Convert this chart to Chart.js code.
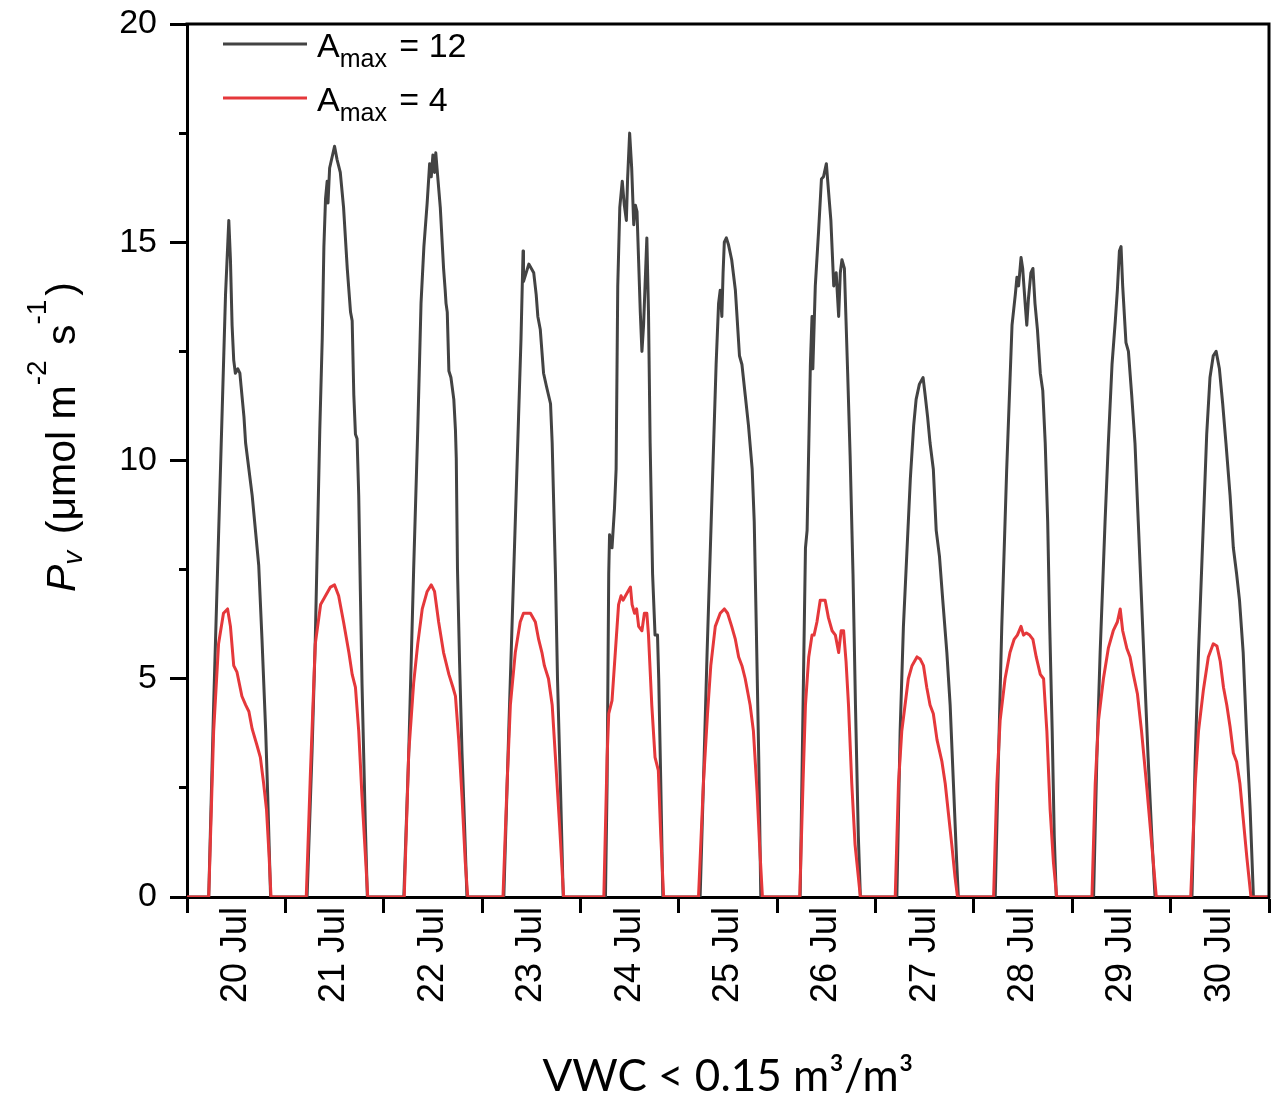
<!DOCTYPE html>
<html lang="en">
<head>
  <meta charset="UTF-8">
  <title>Pv under VWC &lt; 0.15</title>
  <script src="https://cdn.jsdelivr.net/npm/chart.js"></script>
  <style>
    html, body {
      margin: 0;
      padding: 0;
      background: #ffffff;
    }
    #wrap {
      width: 1281px;
      height: 1101px;
    }
  </style>
</head>
<body>
  <div id="wrap"><canvas id="pvChart" width="1281" height="1101"></canvas></div>

  <script>
    // day labels (one per day, centred on noon) and y ticks
    const dayLabels = ['20 Jul', '21 Jul', '22 Jul', '23 Jul', '24 Jul', '25 Jul',
                       '26 Jul', '27 Jul', '28 Jul', '29 Jul', '30 Jul'];
    const yTicks = [0, 2.5, 5, 7.5, 10, 12.5, 15, 17.5, 20];
    const amaxValues = [12, 4];

    // A_max = 12 : hours since 20 Jul 00:00 and Pv
    const a12Hours = [
      0,
      5.3, 6.5, 8.6, 9.4, 10.2, 10.6, 11.0, 11.4, 11.8, 12.4, 12.9, 13.2, 13.9, 14.3, 15.1, 15.9, 17.5, 18.3, 19.2, 19.7, 20.4,
      29.3, 30.5, 31.3, 32.4, 33.0, 33.4, 33.8, 34.2, 34.4, 34.8, 36.0, 36.6, 37.4, 38.2, 39.1, 39.9, 40.3, 40.7, 41.1, 41.5, 41.9, 42.3, 42.7, 43.1, 43.5, 44.0,
      52.9, 54.1, 55.3, 56.3, 56.8, 57.1, 57.8, 58.6, 59.2, 59.6, 60.0, 60.4, 60.7, 61.0, 61.8, 62.6, 63.0, 63.2, 63.5, 63.9, 64.4, 65.1, 65.5, 65.7, 66.0, 66.5, 67.1, 67.7, 68.3,
      77.3, 78.5, 79.3, 80.1, 80.9, 81.5, 82.0, 82.1, 83.4, 84.6, 85.2, 85.6, 86.2, 87.0, 87.7, 88.2, 88.7, 89.1, 89.9, 90.4, 91.1, 91.8,
      102.1, 102.5, 102.9, 103.1, 103.7, 104.3, 104.7, 105.1, 105.6, 106.2, 106.7, 107.2, 107.5, 108.0, 108.5, 109.0, 109.4, 109.8, 110.6, 111.0, 111.4, 112.2, 112.6, 113.0, 113.6, 114.2, 114.8, 115.1, 115.6, 116.1,
      125.2, 126.0, 126.9, 128.1, 129.1, 129.7, 130.1, 130.5, 130.8, 131.1, 131.6, 132.1, 132.9, 133.8, 134.2, 134.8, 135.4, 136.2, 137.0, 137.9, 138.4, 138.9, 139.5, 140.0,
      149.6, 150.9, 151.3, 152.1, 152.5, 152.7, 153.3, 154.1, 154.8, 155.3, 156.0, 156.5, 157.1, 157.8, 158.4, 159.0, 159.4, 159.8, 160.4, 161.2, 161.8, 162.5, 163.1, 163.8, 164.3,
      173.2, 174.0, 174.8, 175.7, 176.5, 177.3, 177.9, 178.7, 179.6, 180.1, 180.7, 181.3, 182.1, 182.8, 183.6, 184.4, 185.4, 186.2, 187.0, 187.8, 188.2,
      197.2, 198.0, 198.8, 200.0, 201.3, 202.1, 202.5, 202.9, 203.5, 203.9, 204.5, 204.9, 205.3, 205.9, 206.4, 206.9, 207.5, 208.2, 208.8, 209.4, 210.0, 210.5, 211.1, 211.6, 212.1,
      221.2, 222.0, 222.8, 224.0, 224.8, 225.7, 226.5, 227.0, 227.5, 227.9, 228.3, 229.1, 229.7, 230.5, 231.3, 232.1, 232.9, 233.7, 234.5, 235.4, 236.2,
      245.2, 246.0, 246.8, 248.0, 248.8, 249.6, 250.4, 251.1, 251.9, 252.7, 253.5, 254.5, 255.3, 256.1, 256.8, 257.7, 258.5, 259.4, 260.2, 264
    ];
    const a12Values = [
      0,
      0, 4.4, 11.2, 13.8, 15.5, 14.6, 13.1, 12.3, 12.0, 12.1, 12.0, 11.7, 11.0, 10.4, 9.8, 9.2, 7.6, 5.9, 3.8, 2.3, 0,
      0, 3.3, 5.9, 10.7, 12.8, 14.9, 16.0, 16.4, 15.9, 16.7, 17.2, 16.9, 16.6, 15.8, 14.4, 13.4, 13.2, 11.5, 10.6, 10.5, 9.2, 7.0, 4.9, 3.3, 1.7, 0,
      0, 3.3, 7.5, 10.7, 12.5, 13.6, 14.9, 15.9, 16.8, 16.5, 17.0, 16.6, 17.05, 16.7, 15.8, 14.4, 13.9, 13.6, 13.4, 12.05, 11.9, 11.4, 10.7, 10.05, 7.5, 5.4, 3.3, 1.7, 0,
      0, 3.8, 6.2, 8.6, 11.0, 12.8, 14.8, 14.1, 14.5, 14.3, 13.8, 13.3, 13.0, 12.0, 11.7, 11.5, 11.3, 10.4, 7.4, 5.0, 2.6, 0,
      0, 2.6, 7.4, 8.3, 8.0, 8.9, 9.8, 14.0, 15.8, 16.4, 15.85, 15.5, 16.45, 17.5, 16.7, 15.4, 15.85, 15.7, 13.4, 12.5, 13.1, 15.1, 13.4, 10.4, 7.4, 6.0, 6.0, 5.0, 2.6, 0,
      0, 2.6, 5.6, 9.2, 12.2, 13.6, 13.9, 13.3, 14.3, 15.0, 15.1, 14.95, 14.6, 13.9, 13.3, 12.4, 12.2, 11.5, 10.8, 9.8, 8.6, 6.2, 3.2, 0,
      0, 8.0, 8.4, 12.2, 13.3, 12.1, 14.0, 15.25, 16.45, 16.5, 16.8, 16.2, 15.5, 14.0, 14.3, 13.3, 14.3, 14.6, 14.4, 12.0, 10.1, 7.4, 4.4, 1.4, 0,
      0, 3.8, 6.2, 8.0, 9.6, 10.8, 11.4, 11.75, 11.9, 11.5, 11.0, 10.4, 9.8, 8.4, 7.8, 6.8, 5.6, 4.4, 2.6, 0.8, 0,
      0, 3.2, 6.2, 9.8, 13.1, 13.8, 14.2, 14.0, 14.65, 14.4, 13.6, 13.1, 13.7, 14.3, 14.4, 13.6, 13.0, 12.0, 11.6, 10.4, 8.6, 6.2, 3.8, 1.4, 0,
      0, 3.2, 5.6, 8.6, 10.4, 12.2, 13.2, 13.9, 14.8, 14.9, 14.0, 12.7, 12.5, 11.5, 10.4, 8.6, 6.8, 5.0, 3.2, 1.4, 0,
      0, 3.2, 5.6, 8.6, 10.6, 11.9, 12.4, 12.5, 12.1, 11.3, 10.4, 9.2, 8.0, 7.4, 6.8, 5.6, 3.8, 2.0, 0, 0
    ];

    // A_max = 4
    const a4Hours = [
      0,
      5.3, 6.5, 7.7, 8.9, 9.9, 10.6, 11.4, 12.2, 13.4, 14.3, 15.1, 15.9, 17.0, 17.9, 18.7, 19.4, 20.0, 20.5,
      29.1, 30.1, 31.3, 32.6, 33.8, 35.0, 36.0, 37.0, 38.2, 39.5, 40.3, 41.1, 41.9, 42.7, 43.5, 44.1,
      53.0, 54.1, 55.3, 56.3, 57.4, 58.6, 59.6, 60.4, 61.4, 62.6, 63.9, 64.9, 65.5, 66.3, 67.1, 67.9, 68.5,
      77.1, 78.1, 78.9, 80.1, 81.3, 82.1, 83.8, 85.0, 85.8, 86.6, 87.2, 88.2, 89.1, 89.9, 90.9, 91.9,
      101.7, 102.5, 102.9, 103.7, 104.5, 105.3, 105.9, 106.4, 107.0, 108.2, 108.6, 109.2, 109.7, 110.2, 111.0, 111.6, 112.2, 112.6, 113.4, 114.2, 115.0, 115.6, 116.3,
      124.8, 126.0, 127.0, 127.8, 128.9, 130.1, 131.1, 131.9, 132.9, 133.8, 134.6, 135.4, 136.2, 137.4, 138.2, 139.1, 139.7, 140.4,
      149.5, 150.3, 150.9, 151.7, 152.5, 153.0, 153.7, 154.5, 155.7, 156.5, 157.4, 158.2, 159.0, 159.6, 160.2, 160.8, 161.4, 162.2, 163.0, 164.3,
      172.8, 173.6, 174.4, 175.2, 176.0, 176.9, 178.1, 178.9, 179.7, 180.5, 181.3, 182.1, 183.0, 184.2, 185.0, 185.8, 186.6, 187.4, 188.0,
      196.8, 197.6, 198.4, 199.6, 200.8, 201.8, 202.6, 203.5, 204.1, 204.8, 205.6, 206.4, 207.2, 208.2, 209.0, 209.8, 210.6, 211.4, 212.2,
      220.8, 221.6, 222.4, 223.6, 224.8, 226.0, 227.0, 227.7, 228.3, 229.3, 230.1, 230.9, 231.9, 232.9, 234.1, 235.4, 236.5,
      244.9, 246.0, 246.8, 248.0, 249.2, 250.4, 251.3, 252.1, 252.9, 253.7, 254.5, 255.3, 256.1, 256.9, 257.7, 258.6, 259.6, 264
    ];
    const a4Values = [
      0,
      0, 3.8, 5.8, 6.5, 6.6, 6.2, 5.3, 5.15, 4.6, 4.4, 4.25, 3.85, 3.5, 3.2, 2.6, 2.0, 1.0, 0,
      0, 2.8, 5.8, 6.7, 6.9, 7.1, 7.15, 6.9, 6.3, 5.6, 5.1, 4.8, 3.8, 2.3, 1.0, 0,
      0, 3.3, 4.9, 5.8, 6.6, 7.0, 7.15, 7.0, 6.3, 5.6, 5.1, 4.8, 4.6, 3.6, 2.3, 0.8, 0,
      0, 2.6, 4.4, 5.6, 6.3, 6.5, 6.5, 6.3, 5.9, 5.6, 5.3, 5.0, 4.4, 3.2, 1.65, 0,
      0, 3.2, 4.2, 4.5, 5.6, 6.7, 6.9, 6.8, 6.9, 7.1, 6.7, 6.5, 6.6, 6.2, 6.1, 6.5, 6.5, 6.0, 4.4, 3.2, 2.9, 1.4, 0,
      0, 2.6, 4.2, 5.3, 6.2, 6.5, 6.6, 6.5, 6.2, 5.9, 5.5, 5.3, 5.0, 4.4, 3.8, 2.4, 1.2, 0,
      0, 2.6, 4.4, 5.5, 6.0, 6.0, 6.3, 6.8, 6.8, 6.4, 6.1, 6.0, 5.6, 6.1, 6.1, 5.4, 4.4, 2.6, 1.2, 0,
      0, 2.6, 3.8, 4.4, 5.0, 5.3, 5.5, 5.45, 5.3, 4.8, 4.4, 4.2, 3.6, 3.1, 2.6, 1.9, 1.2, 0.45, 0,
      0, 2.6, 4.05, 5.0, 5.6, 5.9, 6.0, 6.2, 6.0, 6.05, 6.0, 5.9, 5.5, 5.1, 5.0, 3.8, 2.0, 0.8, 0,
      0, 2.6, 4.05, 5.0, 5.7, 6.1, 6.3, 6.6, 6.1, 5.7, 5.5, 5.1, 4.65, 3.8, 2.6, 1.2, 0,
      0, 2.6, 3.8, 4.75, 5.5, 5.8, 5.75, 5.4, 4.8, 4.4, 3.9, 3.3, 3.1, 2.6, 1.8, 0.9, 0, 0
    ];

    const SANS = '"Liberation Sans", Arial, sans-serif';
    Chart.defaults.font.family = SANS;
    Chart.defaults.color = '#000';

    const toPoints = (hours, values) => hours.map((h, i) => ({ x: h, y: values[i] }));

    // draws a run of text pieces (normal / italic / sub / sup) along the baseline
    function drawPieces(ctx, x, y, pieces, measureOnly) {
      let cx = x;
      pieces.forEach(p => {
        ctx.font = (p.italic ? 'italic ' : '') + p.size + 'px ' + SANS;
        if (!measureOnly) ctx.fillText(p.t, cx, y + (p.dy || 0));
        cx += ctx.measureText(p.t).width + (p.gap || 0);
      });
      return cx - x;
    }

    // frame, legend with subscripts and the rotated y title
    const decorations = {
      id: 'decorations',
      afterDraw(chart) {
        const { ctx, chartArea: a } = chart;
        ctx.save();

        ctx.strokeStyle = '#000';
        ctx.lineWidth = 3;
        ctx.beginPath();
        ctx.moveTo(a.left - 1.5, a.top);
        ctx.lineTo(a.right, a.top);
        ctx.lineTo(a.right, a.bottom + 1.5);
        ctx.stroke();

        ctx.fillStyle = '#000';
        ctx.textBaseline = 'alphabetic';
        chart.data.datasets.forEach((ds, i) => {
          const y = a.top + 20 + i * 54;
          ctx.strokeStyle = ds.borderColor;
          ctx.lineWidth = 3;
          ctx.beginPath();
          ctx.moveTo(a.left + 36, y);
          ctx.lineTo(a.left + 120, y);
          ctx.stroke();
          drawPieces(ctx, a.left + 130, y + 12.5, [
            { t: 'A', size: 34 },
            { t: 'max', size: 25, dy: 10, gap: 3 },
            { t: ' = ' + amaxValues[i], size: 34 }
          ]);
        });

        const title = [
          { t: 'P', size: 41, italic: true },
          { t: 'v', size: 28, italic: true, dy: 7, gap: 5 },
          { t: ' (μmol m', size: 41 },
          { t: '-2', size: 28, dy: -29, gap: 4 },
          { t: ' s', size: 41 },
          { t: '-1', size: 28, dy: -29, gap: 4 },
          { t: ')', size: 41 }
        ];
        ctx.translate(75, 437);
        ctx.rotate(-Math.PI / 2);
        const w = drawPieces(ctx, 0, 0, title, true);
        drawPieces(ctx, -w / 2, 0, title, false);
        ctx.restore();
      }
    };

    new Chart(document.getElementById('pvChart'), {
      type: 'line',
      data: {
        datasets: [
          {
            label: 'Amax = ' + amaxValues[0],
            data: toPoints(a12Hours, a12Values),
            borderColor: '#434343',
            borderWidth: 3,
            pointRadius: 0,
            tension: 0,
            borderJoinStyle: 'round',
            order: 1
          },
          {
            label: 'Amax = ' + amaxValues[1],
            data: toPoints(a4Hours, a4Values),
            borderColor: '#e5383b',
            borderWidth: 3,
            pointRadius: 0,
            tension: 0,
            borderJoinStyle: 'round',
            order: 0
          }
        ]
      },
      options: {
        responsive: false,
        devicePixelRatio: 1,
        animation: false,
        layout: { padding: { top: 24, right: 12, left: 0, bottom: 0 } },
        plugins: {
          legend: { display: false },
          tooltip: { enabled: false }
        },
        scales: {
          x: {
            type: 'linear',
            position: 'bottom',
            min: 0,
            max: dayLabels.length * 24,
            afterBuildTicks: (scale) => {
              const ticks = [];
              dayLabels.forEach((d, i) => {
                ticks.push({ value: i * 24 });
                ticks.push({ value: i * 24 + 12 });
              });
              ticks.push({ value: dayLabels.length * 24 });
              scale.ticks = ticks;
            },
            afterFit: (scale) => {
              scale.height = 204;
              scale.paddingLeft = 0;
              scale.paddingRight = 0;
            },
            ticks: {
              autoSkip: false,
              minRotation: 90,
              maxRotation: 90,
              padding: -6,
              font: { size: 36 },
              callback: (value) => value % 24 === 12 ? dayLabels[(value - 12) / 24] : ''
            },
            grid: {
              drawOnChartArea: false,
              tickLength: 16,
              tickWidth: 3,
              tickColor: (c) => (c.tick && c.tick.value % 24 === 0) ? '#000' : 'transparent'
            },
            border: { display: true, color: '#000', width: 3 },
            title: {
              display: true,
              text: 'VWC < 0.15 m³/m³',
              font: { family: 'Lato, "Open Sans", sans-serif', size: 44 },
              color: '#000',
              padding: { top: 0, bottom: -2 }
            }
          },
          y: {
            min: 0,
            max: 20,
            afterBuildTicks: (scale) => {
              scale.ticks = yTicks.map(v => ({ value: v }));
            },
            afterFit: (scale) => {
              scale.width = 187;
              scale.paddingTop = 0;
              scale.paddingBottom = 0;
            },
            ticks: {
              padding: 13,
              font: { size: 34 },
              callback: (value) => value % 5 === 0 ? String(value) : ''
            },
            grid: {
              drawOnChartArea: false,
              tickLength: 17,
              tickWidth: 3,
              tickColor: '#000',
              tickBorderDash: (c) => (c.tick && c.tick.value % 5 !== 0) ? [0, 9, 9, 100] : []
            },
            border: { display: true, color: '#000', width: 3 }
          }
        }
      },
      plugins: [decorations]
    });
  </script>
</body>
</html>
